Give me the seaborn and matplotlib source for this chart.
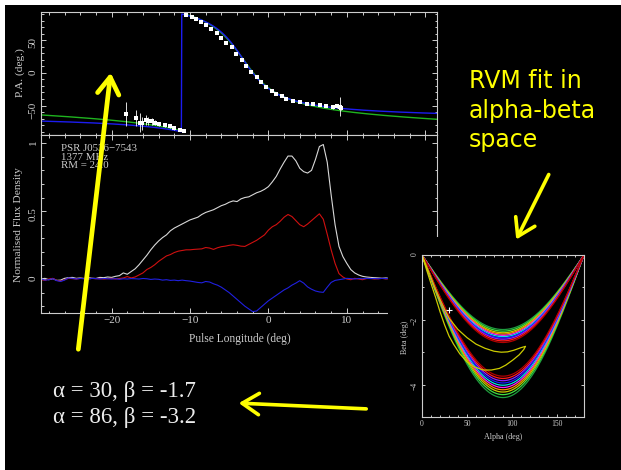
import numpy as np
import matplotlib
matplotlib.use("Agg")
import matplotlib.pyplot as plt
from matplotlib.patches import Rectangle, FancyArrowPatch
from matplotlib.ticker import MultipleLocator
import seaborn as sns

# ---------------------------------------------------------------------------
# Pulse profile of PSR J0536-7543 at 1377 MHz, sampled every 0.5 deg
# ---------------------------------------------------------------------------
LONGITUDE = np.arange(-29.0, 21.75, 0.5)

STOKES_I = [
    0.000, 0.005, -0.005, 0.003, -0.010, -0.008, 0.005, 0.010, 0.012, 0.005,
    0.008, 0.004, 0.010, 0.006, 0.004, 0.012, 0.010, 0.015, 0.012, 0.020,
    0.025, 0.045, 0.035, 0.055, 0.075, 0.105, 0.140, 0.175, 0.215, 0.250,
    0.280, 0.305, 0.325, 0.355, 0.375, 0.390, 0.405, 0.420, 0.435, 0.445,
    0.455, 0.475, 0.490, 0.500, 0.510, 0.525, 0.540, 0.550, 0.565, 0.575,
    0.570, 0.590, 0.600, 0.605, 0.620, 0.635, 0.645, 0.660, 0.680, 0.715,
    0.755, 0.810, 0.860, 0.905, 0.905, 0.870, 0.815, 0.790, 0.780, 0.800,
    0.880, 0.975, 0.990, 0.860, 0.620, 0.400, 0.240, 0.165, 0.115, 0.070,
    0.045, 0.030, 0.020, 0.015, 0.012, 0.010, 0.008, 0.006, 0.008, 0.004,
    0.005, 0.003, 0.006, 0.002, 0.004, 0.001, 0.005, 0.003, 0.002, 0.004,
    0.003, 0.002,
]

LINEAR_POL = [
    -0.005, -0.010, 0.000, 0.005, -0.010, -0.015, -0.005, 0.005, 0.003, 0.000,
    0.005, 0.003, 0.000, 0.005, 0.002, 0.004, 0.000, 0.003, 0.005, 0.000,
    0.004, 0.008, 0.018, 0.008, 0.015, 0.030, 0.045, 0.070, 0.085, 0.105,
    0.130, 0.150, 0.170, 0.180, 0.195, 0.205, 0.210, 0.215, 0.215, 0.218,
    0.220, 0.222, 0.232, 0.228, 0.218, 0.230, 0.238, 0.242, 0.248, 0.252,
    0.248, 0.242, 0.240, 0.255, 0.270, 0.285, 0.305, 0.325, 0.360, 0.385,
    0.400, 0.425, 0.455, 0.475, 0.460, 0.430, 0.400, 0.385, 0.405, 0.430,
    0.455, 0.480, 0.440, 0.330, 0.215, 0.115, 0.040, 0.015, 0.000, -0.005,
    0.005, 0.000, -0.005, 0.003, 0.005, 0.000, 0.002, 0.005, 0.000, 0.003,
    0.002, 0.000, 0.004, 0.001, 0.003, 0.000, 0.002, 0.004, 0.001, 0.002,
    0.000, 0.003,
]

CIRCULAR_POL = [
    0.000, -0.008, -0.005, 0.003, -0.012, -0.018, -0.008, 0.008, 0.005, 0.000,
    0.004, 0.002, -0.002, 0.005, 0.003, 0.000, 0.004, 0.002, 0.000, 0.003,
    -0.002, 0.002, 0.000, 0.003, 0.002, 0.000, 0.004, 0.002, -0.003, 0.000,
    -0.002, -0.008, -0.005, -0.010, -0.008, -0.012, -0.008, -0.012, -0.015, -0.020,
    -0.025, -0.028, -0.018, -0.022, -0.035, -0.045, -0.060, -0.080, -0.100, -0.125,
    -0.150, -0.175, -0.200, -0.220, -0.240, -0.235, -0.210, -0.185, -0.160, -0.140,
    -0.120, -0.100, -0.080, -0.065, -0.045, -0.030, -0.012, -0.030, -0.058, -0.075,
    -0.088, -0.095, -0.098, -0.060, -0.025, -0.010, -0.005, 0.000, 0.005, 0.003,
    0.000, 0.004, 0.002, 0.005, 0.003, 0.004, 0.002, 0.005, 0.003, 0.004,
    0.002, 0.004, 0.001, 0.003, 0.000, 0.002, 0.004, 0.001, 0.003, 0.002,
    0.001, 0.003,
]

# Measured position angles (deg) with 1-sigma errors
PA_LONGITUDE = [-18.1, -16.9, -16.4, -16.1, -15.6, -15.3, -14.9, -14.5, -13.9, -13.2,
                -12.6, -12.0, -11.3, -10.8, -10.5, -9.8, -9.2, -8.6, -7.9, -7.3,
                -6.6, -6.0, -5.4, -4.7, -4.1, -3.4, -2.8, -2.2, -1.5, -0.9,
                -0.3, 0.4, 1.0, 1.7, 2.3, 3.1, 4.0, 4.9, 5.7, 6.6,
                7.4, 8.3, 8.7, 9.1, 9.3]
PA_VALUE = [-63, -69, -76, -77, -72, -73, -74, -76, -78, -80,
            -82, -85, -87, -89, 89, 86, 82, 78, 73, 67,
            61, 54, 46, 39, 29, 20, 11, 1, -7, -14,
            -21, -27, -32, -36, -40, -43, -45, -47, -48, -49,
            -51, -52.5, -50.5, -51.5, -54]
PA_ERROR = [18, 12, 15, 10, 8, 6, 5, 4, 3, 3,
            2.5, 2.5, 2, 2, 2, 1.5, 1.5, 1.5, 1.5, 1.5,
            1.5, 1.5, 1.5, 1.5, 1.5, 1.5, 1.5, 1.5, 1.5, 1.5,
            1.5, 1.5, 1.5, 1.5, 1.5, 1.5, 1.5, 1.5, 1.5, 1.5,
            1.5, 2, 3, 15, 3]

# Two rotating-vector-model solutions
RVM_ALPHA = [30, 86]
RVM_BETA = [-1.7, -3.2]
RVM_COLORS = ["#1fb41f", "#1c1cf0"]
RVM_PHI0 = -3.3
RVM_PSI0 = 22.0

# Chi-square contours in the alpha-beta plane, labelled by beta at alpha = 90
CONTOUR_BETA_UPPER = [-2.70, -2.65, -2.60, -2.56, -2.52, -2.48, -2.44, -2.40, -2.35, -2.30]
CONTOUR_BETA_LOWER = [-3.74, -3.81, -3.88, -3.95, -4.02, -4.09, -4.16, -4.23, -4.31, -4.40]
CONTOUR_COLORS = ["#b00000", "#ff1a1a", "#9020ff", "#1a1aff", "#00e0e0",
                  "#ff20ff", "#ff8c00", "#c8c800", "#40e040", "#1f9f3f"]

# Innermost closed contour
INNER_ALPHA = [0, 5, 10, 15, 20, 25, 30, 40, 50, 60, 70, 80, 88, 95, 102, 110, 115,
               113, 108, 101, 93, 86, 77, 68, 58, 50, 42, 35, 30, 25, 20, 15, 10, 5, 0]
INNER_BETA = [0, -0.35, -0.70, -1.05, -1.38, -1.68, -1.95, -2.30, -2.55, -2.75, -2.88,
              -2.97, -3.00, -2.99, -2.94, -2.86, -2.82,
              -2.92, -3.08, -3.24, -3.40, -3.50, -3.55, -3.55, -3.45, -3.30, -3.05,
              -2.75, -2.50, -2.15, -1.75, -1.30, -0.88, -0.45, 0]
MARK_ALPHA, MARK_BETA = 30, -1.7

GREY = "#cdcdcd"
W, H = 621, 470

sns.set_style("ticks")
plt.rcParams.update({
    "figure.facecolor": "black",
    "figure.edgecolor": "black",
    "axes.facecolor": "black",
    "savefig.facecolor": "black",
    "savefig.edgecolor": "black",
    "axes.edgecolor": GREY,
    "axes.linewidth": 0.8,
    "xtick.color": GREY,
    "ytick.color": GREY,
    "text.color": GREY,
    "axes.labelcolor": GREY,
    "xtick.direction": "in",
    "ytick.direction": "in",
})
plt.rcParams["font.family"] = ["Liberation Serif", "DejaVu Serif"]


def px_box(left, top, right, bottom):
    return [left / W, 1 - bottom / H, (right - left) / W, (bottom - top) / H]


def style_axes(ax, size):
    ax.tick_params(which="both", top=True, right=True, direction="in",
                   width=0.7, labelsize=size, pad=2.5)
    ax.tick_params(which="major", length=3.5)
    ax.tick_params(which="minor", length=1.8)
    ax.tick_params(axis="y", labelrotation=90)
    for s in ax.spines.values():
        s.set_color(GREY)
        s.set_linewidth(0.8)


def rvm_pa(phi, alpha, beta, phi0, psi0):
    a = np.radians(alpha)
    z = np.radians(alpha + beta)
    d = np.radians(phi - phi0)
    num = np.sin(a) * np.sin(d)
    den = np.sin(z) * np.cos(a) - np.cos(z) * np.sin(a) * np.cos(d)
    swing = np.degrees(np.arctan2(-num, -den))
    return (psi0 + swing + 90.0) % 180.0 - 90.0


fig = plt.figure(figsize=(W / 100, H / 100), dpi=100)
fig.patch.set_facecolor("black")

# ---------------- position-angle panel ----------------
ax_pa = fig.add_axes(px_box(41, 12, 437, 135))
phi = np.linspace(-29.0, 21.5, 1011)
for alpha, beta, col in zip(RVM_ALPHA, RVM_BETA, RVM_COLORS):
    pa = rvm_pa(phi, alpha, beta, RVM_PHI0, RVM_PSI0)
    if alpha < 60:
        breaks = np.where(np.abs(np.diff(pa)) > 90)[0] + 1
        for seg_x, seg_y in zip(np.split(phi, breaks), np.split(pa, breaks)):
            sns.lineplot(x=seg_x, y=seg_y, ax=ax_pa, color=col, lw=1.0)
    else:
        sns.lineplot(x=phi, y=pa, ax=ax_pa, color=col, lw=1.0, sort=False,
                     estimator=None)
ax_pa.errorbar(PA_LONGITUDE, PA_VALUE, yerr=PA_ERROR, fmt="none",
               ecolor="white", elinewidth=0.6, capsize=0, zorder=4)
sns.scatterplot(x=PA_LONGITUDE, y=PA_VALUE, ax=ax_pa, marker="s", s=5,
                color="white", edgecolor="white", linewidth=0, zorder=5)
ax_pa.set_xlim(-29, 21.5)
ax_pa.set_ylim(-95, 93)
ax_pa.xaxis.set_major_locator(MultipleLocator(10))
ax_pa.xaxis.set_minor_locator(MultipleLocator(2))
ax_pa.yaxis.set_major_locator(MultipleLocator(50))
ax_pa.yaxis.set_minor_locator(MultipleLocator(10))
style_axes(ax_pa, 8)
ax_pa.tick_params(labelbottom=False)
ax_pa.set_xlabel("")
ax_pa.set_ylabel("")

# ---------------- flux-density panel ----------------
ax_fl = fig.add_axes(px_box(41, 135, 437, 313))
sns.lineplot(x=LONGITUDE, y=STOKES_I, ax=ax_fl, color="#d8d8d8", lw=0.8)
sns.lineplot(x=LONGITUDE, y=LINEAR_POL, ax=ax_fl, color="#d01010", lw=0.8)
sns.lineplot(x=LONGITUDE, y=CIRCULAR_POL, ax=ax_fl, color="#2020e0", lw=0.8)
ax_fl.set_xlim(-29, 21.5)
ax_fl.set_ylim(-0.25, 1.06)
ax_fl.xaxis.set_major_locator(MultipleLocator(10))
ax_fl.xaxis.set_minor_locator(MultipleLocator(2))
ax_fl.yaxis.set_major_locator(MultipleLocator(0.5))
ax_fl.yaxis.set_minor_locator(MultipleLocator(0.1))
ax_fl.set_yticks([0, 0.5, 1])
ax_fl.set_yticklabels(["0", "0.5", "1"])
style_axes(ax_fl, 8)
ax_fl.set_xlabel("")
ax_fl.set_ylabel("")

fig.text(20 / W, 1 - 73 / H, "P.A. (deg.)", rotation=90, ha="center",
         va="center", fontsize=8.2)
fig.text(19 / W, 1 - 225 / H, "Normalised Flux Density", rotation=90,
         ha="center", va="center", fontsize=8.2)
fig.text(240 / W, 1 - 339 / H, "Pulse Longitude (deg)", ha="center",
         va="center", fontsize=8.3)
for i, line in enumerate(["PSR J0536\u22127543", "1377 MHz", "RM = 24.0"]):
    fig.text(61 / W, 1 - (151 + 8.7 * i) / H, line, ha="left",
             va="baseline", fontsize=7.8)

# black backdrop for the alpha-beta inset
fig.add_artist(Rectangle((388 / W, 0), 1 - 388 / W, 1 - 237 / H,
                         transform=fig.transFigure, facecolor="black",
                         edgecolor="none", zorder=1))

# ---------------- alpha-beta inset ----------------
ax_ab = fig.add_axes(px_box(422, 255, 584, 417))
ax_ab.set_zorder(2)
alpha_grid = np.linspace(0, 180, 361)
for b_up, b_lo, col in list(zip(CONTOUR_BETA_UPPER, CONTOUR_BETA_LOWER,
                                CONTOUR_COLORS))[::-1]:
    for b in (b_up, b_lo):
        curve = -np.degrees(np.arcsin(np.sin(np.radians(alpha_grid))
                                      * np.sin(np.radians(abs(b)))))
        sns.lineplot(x=alpha_grid, y=curve, ax=ax_ab, color=col, lw=0.9)
sns.lineplot(x=INNER_ALPHA, y=INNER_BETA, ax=ax_ab, color="#cccc00", lw=0.9,
             sort=False, estimator=None)
sns.scatterplot(x=[MARK_ALPHA], y=[MARK_BETA], ax=ax_ab, marker="+", s=22,
                color="white", linewidth=0.8, zorder=6)
ax_ab.set_xlim(0, 180)
ax_ab.set_ylim(-5, 0)
ax_ab.xaxis.set_major_locator(MultipleLocator(50))
ax_ab.xaxis.set_minor_locator(MultipleLocator(10))
ax_ab.yaxis.set_major_locator(MultipleLocator(2))
ax_ab.yaxis.set_minor_locator(MultipleLocator(1))
style_axes(ax_ab, 5.5)
ax_ab.tick_params(which="major", length=2.5)
ax_ab.tick_params(which="minor", length=1.4)
ax_ab.set_xlabel("")
ax_ab.set_ylabel("")
fig.text(503 / W, 1 - 437 / H, "Alpha (deg)", ha="center", va="center",
         fontsize=5.8, zorder=6)
fig.text(405 / W, 1 - 337 / H, "Beta (deg)", rotation=90, ha="center",
         va="center", fontsize=5.8, zorder=6)

# ---------------- slide annotations ----------------
YELLOW = "#ffff00"
for text, base in [("RVM fit in", 88), ("alpha-beta", 118), ("space", 147)]:
    fig.text(469 / W, 1 - base / H, text, color=YELLOW, fontsize=17,
             family="DejaVu Sans", va="baseline")

fig.text(53 / W, 1 - 397 / H, "\u03b1 = 30, \u03b2 = -1.7", color="#ececec",
         fontsize=16.5, va="baseline")
fig.text(53 / W, 1 - 423 / H, "\u03b1 = 86, \u03b2 = -3.2", color="#ececec",
         fontsize=16.5, va="baseline")

for (x0, y0), (x1, y1), lw in [((78, 352), (111, 70), 3.4),
                               ((369, 409), (236, 403), 2.6),
                               ((550, 172), (515, 242), 2.6)]:
    fig.add_artist(FancyArrowPatch((x0 / W, 1 - y0 / H), (x1 / W, 1 - y1 / H),
                                   transform=fig.transFigure,
                                   arrowstyle="->,head_length=0.55,head_width=0.35",
                                   mutation_scale=22, color=YELLOW, lw=lw,
                                   zorder=8))

# thin white slide margin on the top and left edges
fig.add_artist(Rectangle((0, 0), 5 / W, 1, transform=fig.transFigure,
                         facecolor="white", edgecolor="none", zorder=10))
fig.add_artist(Rectangle((0, 1 - 5 / H), 1, 5 / H, transform=fig.transFigure,
                         facecolor="white", edgecolor="none", zorder=10))

fig.savefig("out.png", dpi=100, facecolor="black", edgecolor="black")
